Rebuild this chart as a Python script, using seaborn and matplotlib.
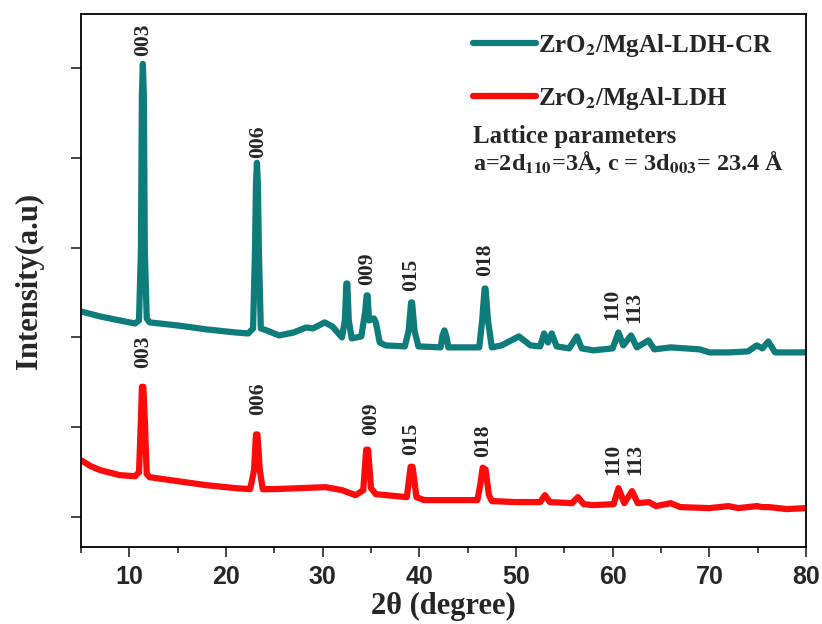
import numpy as np
import pandas as pd
import matplotlib
matplotlib.use("Agg")
import matplotlib.pyplot as plt
from matplotlib.ticker import MultipleLocator, NullFormatter
import seaborn as sns

# ---------------- data ----------------
cr_two_theta = [5.0, 7.0, 9.0, 10.6, 11.0, 11.2, 11.3, 11.4, 11.5, 11.6, 11.8, 12.1, 15.0, 18.0,
                21.0, 22.3, 22.8, 23.0, 23.1, 23.2, 23.3, 23.4, 23.6, 24.2, 25.5, 27.0, 28.3,
                29.0, 30.2, 31.0, 32.0, 32.3, 32.45, 32.55, 32.7, 33.0, 34.0, 34.4, 34.55,
                34.65, 34.8, 35.3, 35.5, 35.9, 36.5, 38.5, 38.9, 39.15, 39.25, 39.5, 39.9,
                42.2, 42.4, 42.6, 42.8, 43.0, 46.2, 46.5, 46.75, 46.85, 47.1, 47.5, 48.5,
                50.3, 51.5, 52.5, 52.9, 53.3, 53.7, 54.2, 55.5, 56.3, 56.8, 58.0, 60.0,
                60.6, 61.1, 61.9, 62.5, 63.7, 64.3, 66.0, 67.5, 69.0, 70.0, 72.0, 74.0,
                74.9, 75.5, 76.1, 76.8, 78.0, 80.0]
cr_intensity = [3289, 3233, 3189, 3155, 3189, 3967, 5700, 6044, 5700, 3967, 3211, 3167, 3133,
                3089, 3055, 3044, 3100, 3967, 4700, 4944, 4700, 3967, 3100, 3078, 3022, 3055,
                3111, 3100, 3167, 3122, 3000, 3189, 3600, 3600, 3189, 2989, 3011, 3289, 3467,
                3467, 3189, 3211, 3167, 2944, 2911, 2900, 3078, 3389, 3389, 3078, 2900,
                2889, 3022, 3078, 3011, 2889, 2889, 3189, 3544, 3544, 3189, 2889, 2911,
                3011, 2911, 2900, 3044, 2944, 3044, 2900, 2878, 3011, 2878, 2856, 2878,
                3055, 2911, 3022, 2889, 2967, 2867, 2889, 2878, 2867, 2833, 2833, 2844,
                2911, 2878, 2955, 2833, 2833, 2833]

ldh_two_theta = [5.0, 6.0, 7.0, 9.0, 10.6, 11.0, 11.2, 11.3, 11.45, 11.6, 11.8, 12.1, 15.0,
                 18.0, 21.0, 22.5, 22.9, 23.1, 23.25, 23.5, 23.8, 25.0, 27.6, 30.3, 32.0,
                 33.4, 34.2, 34.5, 34.7, 35.0, 35.5, 38.7, 39.1, 39.3, 39.7, 40.5, 46.0,
                 46.3, 46.55, 46.85, 47.2, 47.5, 50.0, 52.5, 53.0, 53.5, 55.8, 56.4, 57.0,
                 58.0, 60.1, 60.6, 61.2, 62.0, 62.6, 63.75, 64.5, 66.0, 67.0, 70.0, 72.0,
                 73.0, 74.9, 75.5, 76.2, 78.0, 80.0]
ldh_intensity = [1633, 1567, 1522, 1467, 1455, 1500, 2078, 2450, 2450, 2078, 1478, 1444, 1400,
                 1355, 1322, 1311, 1522, 1920, 1920, 1522, 1311, 1311, 1322, 1333, 1300,
                 1244, 1300, 1750, 1750, 1322, 1255, 1222, 1560, 1560, 1222, 1189, 1189,
                 1355, 1550, 1530, 1244, 1178, 1167, 1167, 1244, 1167, 1155, 1222, 1144,
                 1133, 1144, 1322, 1155, 1289, 1155, 1167, 1122, 1155, 1111, 1100, 1122,
                 1100, 1122, 1111, 1111, 1089, 1100]

series_names = ["ZrO$_{\\mathbf{2}}$/MgAl-LDH-CR", "ZrO$_{\\mathbf{2}}$/MgAl-LDH"]
series_colors = ["#0e7c7b", "#ff0a0a"]

peak_labels = ["003", "006", "009", "015", "018", "110", "113"]
cr_label_x = [11.4, 23.3, 34.6, 39.2, 46.8, 60.0, 62.2]
cr_label_y = [6133, 5000, 3578, 3522, 3689, 3189, 3156]
ldh_label_x = [11.4, 23.3, 35.0, 39.2, 46.6, 60.1, 62.3]
ldh_label_y = [2656, 2133, 1911, 1689, 1667, 1467, 1467]

x_ticks = [10, 20, 30, 40, 50, 60, 70, 80]
y_ticks = [1000, 2000, 3000, 4000, 5000, 6000]

# ---------------- figure ----------------
sns.set_style("white")
plt.rcParams["font.family"] = ["Liberation Serif", "DejaVu Serif"]
plt.rcParams["mathtext.fontset"] = "stix"

df_cr = pd.DataFrame({"x": cr_two_theta, "y": cr_intensity})
df_ldh = pd.DataFrame({"x": ldh_two_theta, "y": ldh_intensity})

fig = plt.figure(figsize=(8.22, 6.24), dpi=100)
ax = fig.add_axes([81 / 822, 1 - 547 / 624, (806 - 81) / 822, (547 - 14) / 624])

sns.lineplot(data=df_cr, x="x", y="y", ax=ax, color=series_colors[0], lw=4.5,
             estimator=None, sort=False, label=series_names[0])
sns.lineplot(data=df_ldh, x="x", y="y", ax=ax, color=series_colors[1], lw=4.5,
             estimator=None, sort=False, label=series_names[1])
for ln in ax.get_lines():
    ln.set_solid_joinstyle("round")

for lab, lx, ly in zip(peak_labels, cr_label_x, cr_label_y):
    ax.text(lx, ly, lab, rotation=90, ha="center", va="bottom",
            fontsize=15.5, fontweight="bold")
for lab, lx, ly in zip(peak_labels, ldh_label_x, ldh_label_y):
    ax.text(lx, ly, lab, rotation=90, ha="center", va="bottom",
            fontsize=15.5, fontweight="bold")

ax.set_xlim(5, 80)
ax.set_ylim(667, 6600)
ax.set_xticks(x_ticks)
ax.xaxis.set_minor_locator(MultipleLocator(5))
ax.set_yticks(y_ticks)
ax.yaxis.set_major_formatter(NullFormatter())
for lbl in ax.get_xticklabels():
    lbl.set_fontfamily(["Liberation Sans", "DejaVu Sans"])
    lbl.set_fontweight("bold")
    lbl.set_fontsize(18)
ax.tick_params(axis="both", which="major", direction="out", length=7, width=1.2,
               bottom=True, left=True, top=False, right=False, pad=6)
ax.tick_params(axis="x", which="minor", direction="out", length=4, width=1.2, bottom=True)
for sp in ax.spines.values():
    sp.set_linewidth(1.3)
    sp.set_color("black")

ax.set_xlabel("2\u03b8 (degree)", fontsize=22, fontweight="bold", labelpad=2)
ax.set_ylabel("Intensity(a.u)", fontsize=22, fontweight="bold", labelpad=14)

leg = ax.legend(loc="upper left", bbox_to_anchor=((473 - 81) / 725, 0.966),
                frameon=False, handlelength=2.5, handletextpad=0.1,
                labelspacing=1.03, borderpad=0, borderaxespad=0,
                prop={"weight": "bold", "size": 18})
for line in leg.get_lines():
    line.set_linewidth(4.5)

ax.text((473 - 81) / 725, (547 - 137) / 533, "Lattice parameters", transform=ax.transAxes,
        ha="left", va="center", fontsize=18, fontweight="bold")
ax.text((473 - 81) / 725, (547 - 163) / 533,
        "a=2d$_{\\mathbf{110}}$=3\u00c5, c = 3d$_{\\mathbf{003}}$= 23.4 \u00c5",
        transform=ax.transAxes, ha="left", va="center", fontsize=17.5, fontweight="bold")

fig.savefig("out.png", dpi=100)
